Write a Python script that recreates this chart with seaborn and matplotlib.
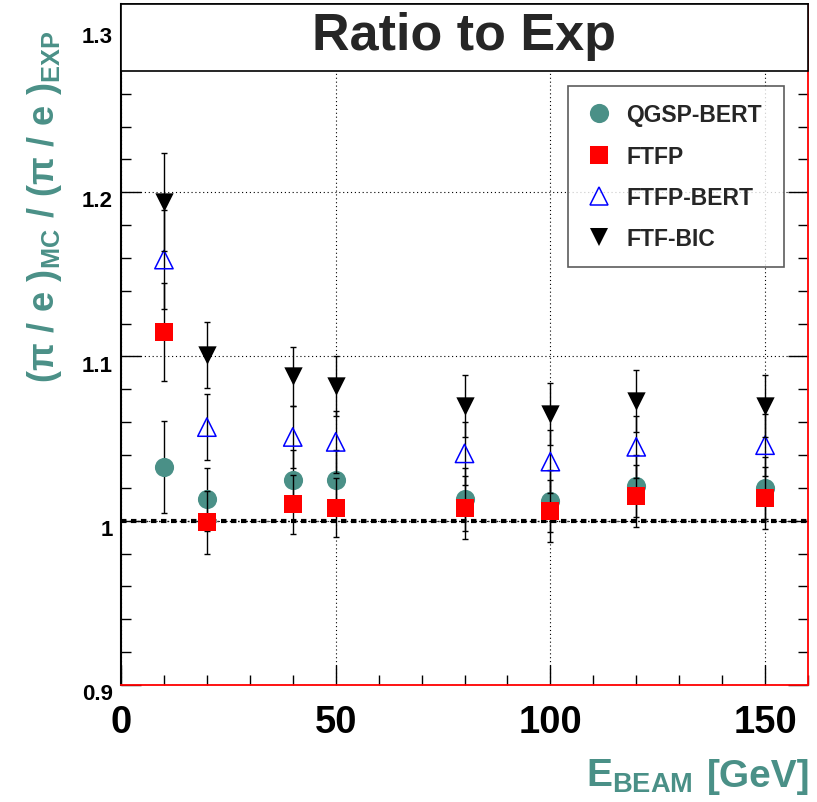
import matplotlib
matplotlib.use("Agg")
import matplotlib.pyplot as plt
import seaborn as sns
from matplotlib.lines import Line2D
from matplotlib.patches import Rectangle
from matplotlib.ticker import MultipleLocator, FixedLocator, FuncFormatter
from matplotlib.transforms import ScaledTranslation

# Beam energies [GeV]
energy = [10, 20, 40, 50, 80, 100, 120, 150]

# (pi/e)_MC / (pi/e)_EXP for each physics list
qgsp_bert = [1.033, 1.013, 1.025, 1.025, 1.013, 1.012, 1.021, 1.020]
ftfp = [1.115, 0.999, 1.010, 1.008, 1.008, 1.006, 1.015, 1.014]
ftfp_bert = [1.159, 1.057, 1.051, 1.048, 1.041, 1.036, 1.045, 1.046]
ftf_bic = [1.194, 1.101, 1.088, 1.082, 1.070, 1.065, 1.073, 1.070]

# Uncertainties
qgsp_bert_err = [0.028, 0.019, 0.018, 0.018, 0.019, 0.019, 0.019, 0.019]
ftfp_err = [0.030, 0.019, 0.018, 0.018, 0.019, 0.019, 0.019, 0.019]
ftfp_bert_err = [0.030, 0.020, 0.019, 0.019, 0.019, 0.019, 0.019, 0.019]
ftf_bic_err = [0.030, 0.020, 0.018, 0.018, 0.019, 0.019, 0.019, 0.019]

models = ["QGSP-BERT", "FTFP", "FTFP-BERT", "FTF-BIC"]
values = [qgsp_bert, ftfp, ftfp_bert, ftf_bic]
errors = [qgsp_bert_err, ftfp_err, ftfp_bert_err, ftf_bic_err]

x_ticks = [0, 50, 100, 150]
y_ticks = [0.9, 1.0, 1.1, 1.2, 1.3]

TEAL = "#4a9087"
styles = {
    "QGSP-BERT": dict(marker="o", face=TEAL, edge=TEAL, size=13.8, lw=0.0),
    "FTFP": dict(marker="s", face="#ff0000", edge="#ff0000", size=13.2, lw=0.0),
    "FTFP-BERT": dict(marker="^", face="none", edge="#0000ff", size=13.2, lw=1.1),
    "FTF-BIC": dict(marker="v", face="black", edge="black", size=13.2, lw=0.0),
}

sns.set_style("ticks")
plt.rcParams.update({
    "font.family": ["Liberation Sans", "DejaVu Sans"],
    "font.weight": "bold",
    "mathtext.fontset": "custom",
    "mathtext.rm": "Liberation Sans:bold",
    "mathtext.bf": "Liberation Sans:bold",
    "mathtext.it": "Liberation Sans:bold",
    "mathtext.sf": "Liberation Sans:bold",
})

W, H = 817, 803
fig = plt.figure(figsize=(W / 100, H / 100), dpi=100)
fig.patch.set_facecolor("white")
ax = fig.add_axes([121 / W, 117 / H, 687 / W, 681 / H])

ax.set_xlim(0, 160)
ax.set_ylim(0.9, 1.3146)

# grid and reference line
ax.grid(which="major", color="black", linestyle=(0, (1, 2.5)), linewidth=0.8, zorder=1)
ax.axhline(1.0, color="black", linewidth=3.0, linestyle=(0, (1.3, 1.1)), zorder=2)
ax.axhline(1.0, color="black", linewidth=1.0, linestyle=(0, (1, 2)), zorder=2)

# error bars and markers, one physics list after another
for i, (name, vals, errs) in enumerate(zip(models, values, errors)):
    st = styles[name]
    ax.errorbar(energy, vals, yerr=errs, fmt="none", ecolor="black",
                elinewidth=1.0, capsize=2.5, capthick=1.0, zorder=3 + 2 * i)
    sns.scatterplot(x=energy, y=vals, marker=st["marker"], s=st["size"] ** 2,
                    color=st["face"], edgecolor=st["edge"], linewidth=st["lw"],
                    ax=ax, zorder=4 + 2 * i, legend=False)

ax.set_xlabel("")
ax.set_ylabel("")

# axes, ticks
ax.xaxis.set_major_locator(FixedLocator(x_ticks))
ax.xaxis.set_minor_locator(MultipleLocator(10))
ax.yaxis.set_major_locator(FixedLocator(y_ticks))
ax.yaxis.set_minor_locator(MultipleLocator(0.02))
ax.yaxis.set_major_formatter(FuncFormatter(lambda v, p: f"{v:g}"))
ax.xaxis.set_major_formatter(FuncFormatter(lambda v, p: f"{v:g}"))

ax.tick_params(axis="both", which="both", direction="in", width=1.0, colors="black")
ax.tick_params(axis="both", which="major", length=14.4)
ax.tick_params(axis="both", which="minor", length=7.2)
ax.tick_params(axis="y", which="both", left=True, right=True)
ax.tick_params(axis="x", which="both", bottom=True, top=False)
ax.tick_params(axis="x", which="major", labelsize=27.5, pad=14)
ax.tick_params(axis="y", which="major", labelsize=16, pad=6)
for lbl in ax.get_xticklabels() + ax.get_yticklabels():
    lbl.set_fontweight("bold")
for lbl in ax.get_yticklabels():
    lbl.set_transform(lbl.get_transform() + ScaledTranslation(0, -4.5 / 72, fig.dpi_scale_trans))

for side, col, lw in [("left", "black", 1.5), ("top", "black", 1.2),
                      ("right", "#ff0000", 1.3), ("bottom", "#ff0000", 1.3)]:
    ax.spines[side].set_visible(True)
    ax.spines[side].set_color(col)
    ax.spines[side].set_linewidth(lw)
    ax.spines[side].set_zorder(20)

# title box
box_bottom = (686 - 72) / 681
ax.add_patch(Rectangle((0, box_bottom), 1, 1 - box_bottom, transform=ax.transAxes,
                       facecolor="white", edgecolor="black", linewidth=1.2,
                       zorder=30, clip_on=False))
ax.text(0.5, (686 - 50) / 681, "Ratio to Exp", transform=ax.transAxes,
        ha="center", va="baseline", fontsize=37.5, fontweight="bold", zorder=31)

# legend
handles = [
    Line2D([], [], linestyle="none", marker=styles[m]["marker"],
           markersize=styles[m]["size"],
           markerfacecolor=styles[m]["face"], markeredgecolor=styles[m]["edge"],
           markeredgewidth=max(styles[m]["lw"], 0.01))
    for m in models
]
leg = ax.legend(handles, models, loc="upper left",
                bbox_to_anchor=((568 - 121) / 687, (686 - 252) / 681,
                                (784 - 568) / 687, (252 - 87) / 681),
                mode="expand", borderaxespad=0, frameon=True, fancybox=False,
                prop=dict(weight="bold", size=16.5), handlelength=1.2,
                handletextpad=0.6, borderpad=0.75, labelspacing=0.8)
leg.get_frame().set_edgecolor("#333333")
leg.get_frame().set_linewidth(1.2)
leg.set_zorder(40)

# axis titles
fig.text(45 / W, 1 - 207 / H,
         r"$\mathbf{(\pi\ /\ e\ )_{MC}\ /\ (\pi\ /\ e\ )_{EXP}}$",
         rotation=90, ha="center", va="center", fontsize=26, color=TEAL)
fig.text(586 / W, 1 - 787 / H, r"$\mathbf{E_{BEAM}}$",
         ha="left", va="baseline", fontsize=28, color=TEAL)
fig.text(810 / W, 1 - 787 / H, "[GeV]",
         ha="right", va="baseline", fontsize=28, fontweight="bold", color=TEAL)

fig.savefig("out.png", dpi=100, facecolor="white")
